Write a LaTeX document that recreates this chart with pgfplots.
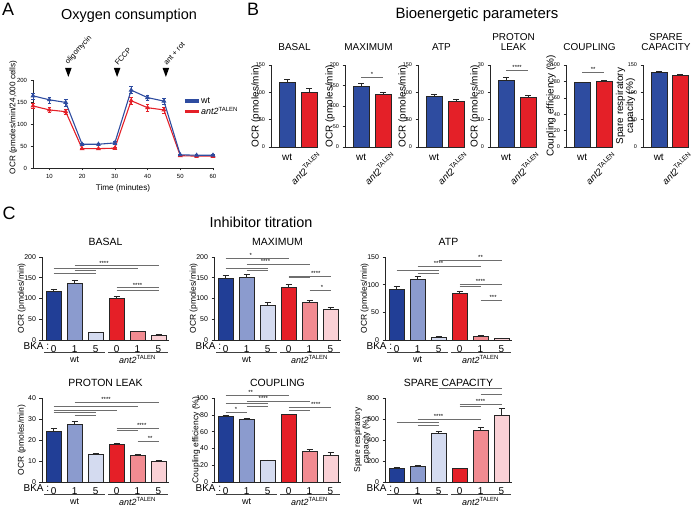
\documentclass[border=0pt]{standalone}
\usepackage{fontspec}
\setmainfont{Liberation Sans}
\usepackage{pgfplots}
\pgfplotsset{compat=1.18}

\definecolor{wtA}{RGB}{46,76,160}
\definecolor{koA}{RGB}{228,32,40}
\definecolor{wtz}{RGB}{33,62,150}
\definecolor{wto}{RGB}{139,155,206}
\definecolor{wtf}{RGB}{212,219,240}
\definecolor{koz}{RGB}{229,31,39}
\definecolor{koo}{RGB}{241,139,145}
\definecolor{kof}{RGB}{250,209,214}
\definecolor{siggray}{RGB}{110,110,110}

\newcommand{\fs}[1]{\fontsize{#1}{#1}\selectfont}
\newcommand{\ko}{\textit{ant2}\textsuperscript{TALEN}}

\pgfplotsset{
  prism/.style={scale only axis, axis x line*=bottom, axis y line*=left,
    axis line style={line width=0.6pt, black!85, -}, ymin=0,
    tick align=outside, major tick length=2.5bp, tick style={line width=0.5pt, black!85},
    /pgf/number format/assume math mode=true, clip=false,
    title style={inner sep=0pt, anchor=south, at={(0.5,1)}}},
  bx/.style={prism, width=47bp, height=82bp, xmin=0.27, xmax=2.4, xtick=\empty,
    bar width=16bp, yticklabel style={font=\fs{5.5}},
    ylabel style={font=\fs{10}, at={(axis description cs:-0.32,0.5)}, anchor=center, align=center},
    title style={font=\fs{10}, yshift=8bp, align=center}},
  cx/.style={prism, width=127bp, xmin=0.45, xmax=6.5, xtick={1,...,6},
    xticklabels={0,1,5,0,1,5}, x tick style={draw=none},
    xticklabel style={font=\fs{10}, inner sep=2.5bp}, bar width=15bp,
    yticklabel style={font=\fs{7}},
    ylabel style={font=\fs{8.5}, at={(axis description cs:-0.16,0.5)}, anchor=center, align=center},
    title style={font=\fs{10.5}, yshift=5.5bp}},
  bb/.style={ybar, bar shift=0pt, fill=#1, draw=black!85, line width=0.45pt,
    error bars/y dir=plus, error bars/y explicit,
    error bars/error bar style={line width=0.5pt, black!85},
    error bars/error mark options={line width=0.5pt, black!85, mark size=3bp, rotate=90}},
}

\newcommand{\sig}[3]{\draw[siggray, line width=0.5pt] (axis cs:#1,#3) -- (axis cs:#2,#3);}
\newcommand{\st}[3]{\node[font=\fs{6}, anchor=south, inner sep=0.5bp] at (axis cs:#1,#2) {#3};}
\newcommand{\blab}{%
  \node[font=\fs{10}] at ([yshift=-10bp]axis cs:1,0) {wt};
  \node[font=\fs{9.5}, rotate=45, anchor=north east, inner sep=0pt] at ([xshift=8bp,yshift=-4bp]axis cs:2,0) {\ko};}
\newcommand{\grp}{%
  \node[font=\fs{10}, anchor=east, inner sep=0pt] at ([yshift=-6.3bp]axis cs:0.8,0) {BKA :};
  \draw[line width=0.7pt, black!75] ([yshift=-12bp]axis cs:0.55,0) -- ([yshift=-12bp]axis cs:3.45,0);
  \draw[line width=0.7pt, black!75] ([yshift=-12bp]axis cs:3.6,0) -- ([yshift=-12bp]axis cs:6.45,0);
  \node[font=\fs{9}] at ([yshift=-19.5bp]axis cs:2,0) {wt};
  \node[font=\fs{9}] at ([yshift=-19.5bp]axis cs:5,0) {\ko};}
\newcommand{\inj}[2]{%
  \fill (axis cs:#1,207) -- ++(-3.3bp,9bp) -- ++(6.6bp,0bp) -- cycle;
  \node[font=\fs{7.5}, rotate=48, anchor=south west, inner sep=0pt] at ([xshift=1bp,yshift=11bp]axis cs:#1,207) {#2};}

\begin{document}
\begin{tikzpicture}
\useasboundingbox (0,0) rectangle (692bp,506bp);

% ---------------- A
\node[font=\fs{18}] at (8bp,497bp) {A};
\node[font=\fs{14.5}] at (129bp,490bp) {Oxygen consumption};
\begin{axis}[prism, at={(33bp,338bp)}, anchor=south west, width=180bp, height=88bp,
  xmin=5, xmax=60, ymax=200, xtick={10,20,...,60}, ytick={0,50,...,200},
  tick label style={font=\fs{6}},
  xlabel={Time (minutes)}, xlabel style={font=\fs{8.2}, at={(axis description cs:0.5,0)}, anchor=center, yshift=-20bp},
  ylabel={OCR (pmoles/min/24,000 cells)}, ylabel style={font=\fs{8.2}, at={(axis description cs:-0.11,0.574)}, anchor=center},
  legend style={at={(0.833,0.81)}, anchor=north west, draw=none, fill=none, font=\fs{9}, inner sep=0pt,
    row sep=1bp, cells={anchor=west}, nodes={inner sep=0.6bp}},
  legend image code/.code={\draw[#1, line width=3.5bp] (0bp,0bp) -- (14bp,0bp);}]
\addplot[koA, line width=1.1pt, mark=triangle*, mark size=1.8pt, forget plot,
  error bars/.cd, y dir=both, y explicit, error bar style={line width=0.6pt}]
  coordinates {(5,141) +- (0,6) (10,132) +- (0,6) (15,128) +- (0,6) (20,44) +- (0,2) (25,44) +- (0,2) (30,45) +- (0,2)
  (35,153) +- (0,8) (40,137) +- (0,7) (45,132) +- (0,7) (50,28) +- (0,2) (55,27) +- (0,2) (60,27) +- (0,2)};
\addplot[wtA, line width=1.1pt, mark=triangle*, mark size=1.8pt, forget plot,
  error bars/.cd, y dir=both, y explicit, error bar style={line width=0.6pt}]
  coordinates {(5,164) +- (0,7) (10,155) +- (0,7) (15,149) +- (0,8) (20,54) +- (0,3) (25,54) +- (0,3) (30,57) +- (0,3)
  (35,177) +- (0,8) (40,160) +- (0,6) (45,152) +- (0,7) (50,30) +- (0,2) (55,29) +- (0,2) (60,29) +- (0,2)};
\addlegendimage{wtA}\addlegendentry{wt}
\addlegendimage{koA}\addlegendentry{\ko}
\inj{15.8}{oligomycin}
\inj{30.7}{FCCP}
\inj{45.6}{ant + rot}
\end{axis}

% ---------------- B
\node[font=\fs{18}] at (253bp,497bp) {B};
\node[font=\fs{15}] at (477bp,491bp) {Bioenergetic parameters};

\begin{axis}[bx, at={(271bp,359bp)}, anchor=south west, ymax=150, ytick={0,50,100,150},
  title={BASAL}, ylabel={OCR (pmoles/min)}]
\addplot[bb=wtA] coordinates {(1,118) +- (0,6)};
\addplot[bb=koA] coordinates {(2,101) +- (0,6)};
\blab
\end{axis}

\begin{axis}[bx, at={(345bp,359bp)}, anchor=south west, ymax=200, ytick={0,50,...,200},
  title={MAXIMUM}, ylabel={OCR (pmoles/min)}]
\addplot[bb=wtA] coordinates {(1,149) +- (0,6)};
\addplot[bb=koA] coordinates {(2,128) +- (0,6)};
\sig{1}{2}{171}\st{1.5}{171}{*}
\blab
\end{axis}

\begin{axis}[bx, at={(418bp,359bp)}, anchor=south west, ymax=150, ytick={0,50,100,150},
  title={ATP}, ylabel={OCR (pmoles/min)}]
\addplot[bb=wtA] coordinates {(1,92) +- (0,5)};
\addplot[bb=koA] coordinates {(2,83) +- (0,5)};
\blab
\end{axis}

\begin{axis}[bx, at={(490bp,359bp)}, anchor=south west, ymax=30, ytick={0,10,20,30},
  title={PROTON\\LEAK}, ylabel={OCR (pmoles/min)}]
\addplot[bb=wtA] coordinates {(1,24.5) +- (0,1)};
\addplot[bb=koA] coordinates {(2,18.1) +- (0,0.8)};
\sig{1}{2}{28}\st{1.5}{28}{****}
\blab
\end{axis}

\begin{axis}[bx, at={(566bp,359bp)}, anchor=south west, ymax=100, ytick={0,20,...,100},
  title={COUPLING}, ylabel={Coupling efficiency (\%)}]
\addplot[bb=wtA] coordinates {(1,78.4) +- (0,0.4)};
\addplot[bb=koA] coordinates {(2,80.8) +- (0,0.6)};
\sig{1}{2}{91}\st{1.5}{91}{**}
\blab
\end{axis}

\begin{axis}[bx, at={(643bp,359bp)}, anchor=south west, width=46bp, ymax=150, ytick={0,50,100,150},
  title={SPARE\\CAPACITY}, ylabel={Spare respiratory\\capacity (\%)},
  ylabel style={at={(axis description cs:-0.38,0.5)}}]
\addplot[bb=wtA] coordinates {(1,136) +- (0,2)};
\addplot[bb=koA] coordinates {(2,130.4) +- (0,2)};
\blab
\end{axis}

% ---------------- C
\node[font=\fs{18}] at (9bp,293bp) {C};
\node[font=\fs{14.5}] at (261bp,284bp) {Inhibitor titration};

\begin{axis}[cx, at={(42bp,166bp)}, anchor=south west, height=83bp, ymax=200, ytick={0,50,...,200},
  title={BASAL}, ylabel={OCR (pmoles/min)}]
\addplot[bb=wtz] coordinates {(1,117) +- (0,6)};
\addplot[bb=wto] coordinates {(2,136) +- (0,7)};
\addplot[bb=wtf] coordinates {(3,18) +- (0,1.5)};
\addplot[bb=koz] coordinates {(4,101) +- (0,5)};
\addplot[bb=koo] coordinates {(5,20) +- (0,1)};
\addplot[bb=kof] coordinates {(6,12) +- (0,1)};
\sig{2}{6}{179}\st{3.4}{179}{****}
\sig{1}{5}{174}\sig{2}{3}{168}\sig{1}{3}{162}
\sig{4}{6}{126}\st{5}{126}{****}
\sig{4}{5}{119}\sig{5}{6}{119}
\grp
\end{axis}

\begin{axis}[cx, at={(214bp,166bp)}, anchor=south west, height=83bp, ymax=200, ytick={0,50,...,200},
  title={MAXIMUM}, ylabel={OCR (pmoles/min)}]
\addplot[bb=wtz] coordinates {(1,149) +- (0,6)};
\addplot[bb=wto] coordinates {(2,152) +- (0,6)};
\addplot[bb=wtf] coordinates {(3,84) +- (0,6)};
\addplot[bb=koz] coordinates {(4,128) +- (0,6)};
\addplot[bb=koo] coordinates {(5,91) +- (0,4)};
\addplot[bb=kof] coordinates {(6,74) +- (0,4)};
\sig{1}{4}{198}\st{2.2}{198}{*}
\sig{2}{5}{183}\st{2.9}{183}{****}
\sig{1}{3}{174}\sig{2}{3}{168}
\sig{4}{6}{154}\st{5.3}{154}{****}
\sig{4}{5}{150}
\sig{5}{6}{119}\st{5.6}{119}{*}
\grp
\end{axis}

\begin{axis}[cx, at={(385bp,166bp)}, anchor=south west, height=83bp, ymax=150, ytick={0,50,100,150},
  title={ATP}, ylabel={OCR (pmoles/min)}]
\addplot[bb=wtz] coordinates {(1,92) +- (0,6)};
\addplot[bb=wto] coordinates {(2,109) +- (0,6)};
\addplot[bb=wtf] coordinates {(3,5) +- (0,1)};
\addplot[bb=koz] coordinates {(4,84) +- (0,4)};
\addplot[bb=koo] coordinates {(5,7) +- (0,1)};
\addplot[bb=kof] coordinates {(6,3.5) +- (0,0.5)};
\sig{3}{6}{145}\st{5}{145}{**}
\sig{2}{5}{133}\st{3}{133}{****}
\sig{1}{3}{126}\sig{2}{3}{121}
\sig{4}{6}{100}\st{5}{100}{****}
\sig{4}{5}{97}
\sig{5}{6}{72}\st{5.6}{72}{***}
\grp
\end{axis}

\begin{axis}[cx, at={(42bp,24bp)}, anchor=south west, height=84bp, ymax=40, ytick={0,10,...,40},
  title={PROTON LEAK}, ylabel={OCR (pmoles/min)}]
\addplot[bb=wtz] coordinates {(1,24.4) +- (0,1)};
\addplot[bb=wto] coordinates {(2,27.7) +- (0,1.1)};
\addplot[bb=wtf] coordinates {(3,13.2) +- (0,0.5)};
\addplot[bb=koz] coordinates {(4,18) +- (0,0.6)};
\addplot[bb=koo] coordinates {(5,12.6) +- (0,0.7)};
\addplot[bb=kof] coordinates {(6,9.7) +- (0,0.5)};
\sig{2}{6}{37.9}\st{3.5}{37.9}{****}
\sig{1}{5}{36}\sig{1}{4}{34.4}\sig{1}{3}{33.3}\sig{2}{3}{32}
\sig{4}{6}{25.6}\st{5.2}{25.6}{****}
\sig{4}{5}{24.8}
\sig{5}{6}{19.2}\st{5.6}{19.2}{**}
\grp
\end{axis}

\begin{axis}[cx, at={(214bp,24bp)}, anchor=south west, height=84bp, ymax=100, ytick={0,20,...,100},
  title={COUPLING}, ylabel={Coupling efficiency (\%)},
  ylabel style={at={(axis description cs:-0.14,0.5)}}]
\addplot[bb=wtz] coordinates {(1,78.5) +- (0,0.5)};
\addplot[bb=wto] coordinates {(2,74.6) +- (0,1)};
\addplot[bb=wtf] coordinates {(3,25.4) +- (0,1)};
\addplot[bb=koz] coordinates {(4,80.6) +- (0,0.6)};
\addplot[bb=koo] coordinates {(5,37) +- (0,2)};
\addplot[bb=kof] coordinates {(6,31.5) +- (0,3.5)};
\sig{1}{4}{103.6}\st{2.2}{103.6}{**}
\sig{2}{5}{96}\st{2.8}{96}{****}
\sig{1}{3}{94}\sig{2}{3}{90.7}
\sig{4}{6}{88.7}\st{5.3}{88.7}{****}
\sig{4}{5}{86}
\sig{1}{2}{83.5}\st{1.5}{83.5}{*}
\grp
\end{axis}

\begin{axis}[cx, at={(385bp,24bp)}, anchor=south west, height=84bp, ymax=800, ytick={0,200,...,800},
  title={SPARE CAPACITY}, ylabel={Spare respiratory\\capacity (\%)},
  ylabel style={at={(axis description cs:-0.18,0.5)}}]
\addplot[bb=wtz] coordinates {(1,135) +- (0,5)};
\addplot[bb=wto] coordinates {(2,152) +- (0,7)};
\addplot[bb=wtf] coordinates {(3,465) +- (0,22)};
\addplot[bb=koz] coordinates {(4,129) +- (0,4)};
\addplot[bb=koo] coordinates {(5,497) +- (0,20)};
\addplot[bb=kof] coordinates {(6,635) +- (0,65)};
\sig{3}{6}{894}\st{4.5}{894}{*}
\sig{5}{6}{835}
\sig{4}{6}{742}\st{5}{742}{****}
\sig{4}{5}{719}
\sig{2}{5}{597}\st{3}{597}{****}
\sig{1}{3}{571}\sig{2}{3}{545}
\grp
\end{axis}
\end{tikzpicture}
\end{document}
